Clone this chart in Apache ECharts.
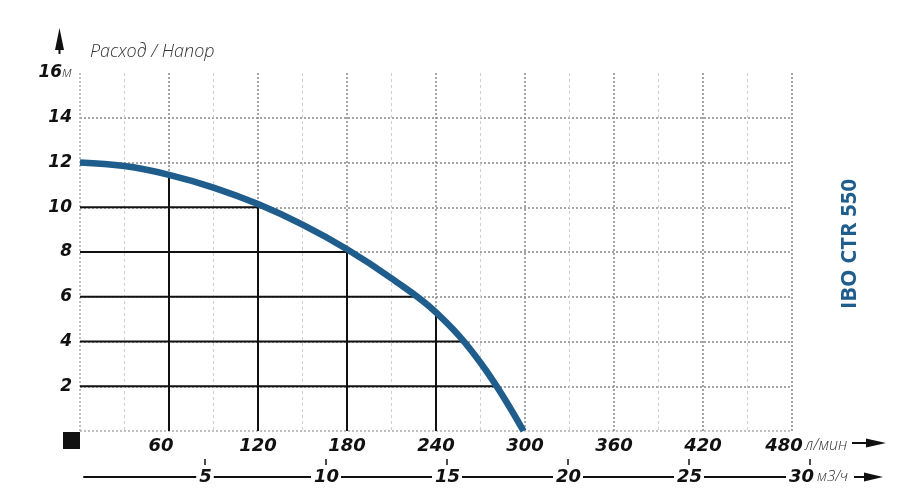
<!DOCTYPE html>
<html>
<head>
<meta charset="utf-8">
<script src="https://cdn.jsdelivr.net/npm/echarts@6/dist/echarts.min.js"></script>
<style>html,body{margin:0;padding:0;background:#fff}#c{width:915px;height:501px}</style>
</head>
<body>
<div id="c"></div>
<script>
// ---- data ----
const flowsLpm = [0, 30, 60, 90, 120, 150, 180, 210, 240, 270, 299];
const headM    = [12, 11.84, 11.45, 10.88, 10.14, 9.22, 8.12, 6.82, 5.3, 3.05, 0];
const flowTickLabels = [60, 120, 180, 240, 300, 360, 420, 480];
const headTickLabels = [2, 4, 6, 8, 10, 12, 14, 16];
const m3hTickLabels = [5, 10, 15, 20, 25, 30];
const dropFlows = [60, 120, 180, 240];
const levelHeads = [10, 8, 6, 4, 2];
const levelFlows = [124, 182, 227, 257, 280];
const modelName = 'IBO CTR 550';
const axisTitle = 'Расход / Напор';

const FF = '"Open Sans", "DejaVu Sans", sans-serif';
const NUMF = '"DejaVu Sans", sans-serif';
const BLUE = '#1f5d8c';
const chart = echarts.init(document.getElementById('c'), null, {renderer: 'canvas'});

const curveData = flowsLpm.map((q, i) => [q, headM[i]]);
const dropSeries = dropFlows.map(q => ({
  type: 'line', xAxisIndex: 0, yAxisIndex: 0, symbol: 'none', silent: true, z: 3,
  lineStyle: {color: '#111', width: 2},
  data: [[q, 0], [q, headM[flowsLpm.indexOf(q)]]]
}));
const levelSeries = levelHeads.map((h, i) => ({
  type: 'line', xAxisIndex: 0, yAxisIndex: 0, symbol: 'none', silent: true, z: 3,
  lineStyle: {color: '#111', width: 2},
  data: [[0, h], [levelFlows[i], h]]
}));

const boldX = {fontFamily: NUMF, fontSize: 18, fontWeight: 'bold', fontStyle: 'italic', color: '#111'};
const boldY = {fontFamily: NUMF, fontSize: 17, fontWeight: 'bold', fontStyle: 'italic', color: '#111'};
const unit = {fontFamily: FF, fontSize: 16, fontWeight: 300, fontStyle: 'italic', color: '#333'};

const option = {
  animation: false,
  grid: [
    {left: 80, right: 123, top: 73, bottom: 70},
    {left: 84, right: 105, top: 455, bottom: 36}
  ],
  xAxis: [
    {
      gridIndex: 0, type: 'value', min: 0, max: 480, interval: 60,
      axisLine: {show: false}, axisTick: {show: false},
      axisLabel: {
        margin: 6,
        formatter: v => {
          if (!flowTickLabels.includes(v)) return '';
          if (v === 480) return '{b|' + v + '}{sp|}';
          if (v === 60) return '{b|' + v + '}{sp|}';
          return '{b|' + v + '}';
        },
        rich: {b: boldX, sp: {width: 16}}
      },
      name: 'л/мин', nameLocation: 'end', nameGap: 13, nameMoveOverlap: false,
      nameTextStyle: Object.assign({}, unit, {verticalAlign: 'top', padding: [6, 0, 0, 0]}),
      splitLine: {show: true, lineStyle: {color: ['#aaa', '#888', '#888', '#888', '#888', '#888', '#888', '#888', '#888'], width: 1.5, type: [2, 2]}},
      minorTick: {show: false, splitNumber: 2},
      minorSplitLine: {show: true, lineStyle: {color: '#cfcfcf', width: 1, type: [3, 3]}}
    },
    {
      gridIndex: 1, type: 'value', min: 0, max: 30, interval: 5, position: 'bottom', offset: 0,
      axisLine: {show: false},
      axisTick: {show: true, inside: true, length: 6, customValues: m3hTickLabels, lineStyle: {color: '#111', width: 1.5}},
      axisLabel: {show: false}, splitLine: {show: false}
    },
    {
      gridIndex: 1, type: 'value', min: 0, max: 30, interval: 5, position: 'bottom', offset: 12,
      axisLine: {show: true, lineStyle: {color: '#111', width: 2}},
      axisTick: {show: false},
      axisLabel: {
        margin: 0, verticalAlign: 'middle',
        formatter: v => {
          if (!m3hTickLabels.includes(v)) return '';
          return v === 30 ? '{b|' + v + '}{sp|}' : '{b|' + v + '}';
        },
        rich: {b: Object.assign({}, boldX, {backgroundColor: '#fff', padding: [0, 2, 0, 3]}), sp: {width: 18}}
      },
      name: 'м3/ч', nameLocation: 'end', nameGap: 7, nameMoveOverlap: false,
      nameTextStyle: Object.assign({}, unit, {fontSize: 15, verticalAlign: 'middle'}),
      splitLine: {show: false}
    }
  ],
  yAxis: [
    {
      gridIndex: 0, type: 'value', min: 0, max: 16, interval: 2,
      axisLine: {show: false}, axisTick: {show: false},
      axisLabel: {
        margin: 8,
        formatter: v => {
          if (!headTickLabels.includes(v)) return '';
          return v === 16 ? '{b|16}{u|м}' : '{b|' + v + '}';
        },
        rich: {b: boldY, u: Object.assign({}, unit, {fontSize: 15})}
      },
      splitLine: {show: true, lineStyle: {color: ['#aaa', '#888', '#888', '#888', '#888', '#888', '#888', '#888', 'rgba(0,0,0,0)'], width: 1.5, type: [2, 2]}}
    },
    {gridIndex: 1, type: 'value', show: false}
  ],
  graphic: [
    {type: 'text', left: 90, top: 43, style: {text: axisTitle, font: 'italic 300 18px ' + FF, fill: '#333'}},
    {type: 'polygon', shape: {points: [[59.5, 28], [64, 50], [60.5, 50], [60.5, 54], [58.5, 54], [58.5, 50], [55, 50]]}, style: {fill: '#111'}},
    {type: 'rect', shape: {x: 63, y: 432, width: 17, height: 17}, style: {fill: '#111'}},
    {type: 'polygon', shape: {points: [[852, 442], [866, 442], [866, 438.5], [886, 443], [866, 447.5], [866, 444], [852, 444]]}, style: {fill: '#111'}},
    {type: 'polygon', shape: {points: [[854, 476], [864, 476], [864, 472.5], [883, 477], [864, 481.5], [864, 478], [854, 478]]}, style: {fill: '#111'}},
    {type: 'text', x: 850, y: 244, rotation: Math.PI / 2,
      style: {text: modelName, x: 0, y: 0, align: 'center', verticalAlign: 'middle', font: 'bold 22px ' + FF, fill: BLUE}}
  ],
  series: [
    ...dropSeries,
    ...levelSeries,
    {
      type: 'line', xAxisIndex: 0, yAxisIndex: 0, data: curveData, smooth: 0.4,
      symbol: 'none', z: 5, lineStyle: {color: BLUE, width: 6.5}
    }
  ]
};
chart.setOption(option);
</script>
</body>
</html>
